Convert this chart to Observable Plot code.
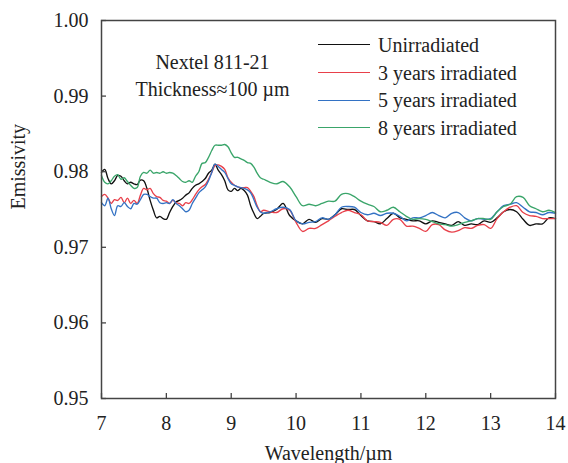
<!DOCTYPE html>
<html><head><meta charset="utf-8">
<script src="https://cdn.jsdelivr.net/npm/d3@7"></script>
<script src="https://cdn.jsdelivr.net/npm/@observablehq/plot@0.6"></script>
<style>
body{margin:0;background:#fff;}
#wrap{position:relative;width:568px;height:463px;font-family:"Liberation Serif","Times New Roman",serif;}
#legend{position:absolute;left:318px;top:31px;font-size:20px;color:#222;line-height:1;}
#legend .row{display:flex;align-items:center;height:27.7px;white-space:nowrap;}
#legend .sw{width:52px;height:0;border-top:1.4px solid;margin-right:8px;}
</style></head><body><div id="wrap"></div>
<script>
const wavelength = [
 7.00,7.05,7.10,7.15,7.20,7.25,7.30,7.35,7.40,7.45,
 7.50,7.55,7.60,7.65,7.70,7.75,7.80,7.85,7.90,7.95,
 8.00,8.05,8.10,8.15,8.20,8.25,8.30,8.35,8.40,8.45,
 8.50,8.55,8.60,8.65,8.70,8.75,8.80,8.85,8.90,8.95,
 9.00,9.05,9.10,9.15,9.20,9.25,9.30,9.35,9.40,9.45,
 9.50,
 9.6,9.7,9.8,9.9,
 10.0,10.1,10.2,10.3,10.4,10.5,10.6,10.7,10.8,10.9,
 11.0,11.1,11.2,11.3,11.4,11.5,11.6,11.7,11.8,11.9,
 12.0,12.1,12.2,12.3,12.4,12.5,12.6,12.7,12.8,12.9,
 13.0,13.1,13.2,13.3,13.4,13.5,13.6,13.7,13.8,13.9,
 14.0];
const unirradiated = [
 0.9799,0.9803,0.9791,0.9784,0.9788,0.9795,0.9794,0.9788,0.9784,0.9786,
 0.9784,0.9783,0.9789,0.9788,0.9778,0.9762,0.9749,0.9739,0.9741,0.9738,
 0.9737,0.9746,0.9754,0.9760,0.9762,0.9765,0.9769,0.9772,0.9778,0.9782,
 0.9784,0.9787,0.9791,0.9798,0.9802,0.9810,0.9802,0.9796,0.9788,0.9776,
 0.9774,0.9778,0.9775,0.9778,0.9775,0.9769,0.9755,0.9745,0.9738,0.9741,
 0.9745,
 0.9746,0.9750,0.9758,0.9742,
 0.9735,0.9731,0.9737,0.9733,0.9738,0.9737,0.9743,0.9751,0.9750,0.9750,
 0.9742,0.9735,0.9734,0.9731,0.9738,0.9745,0.9739,0.9737,0.9735,0.9735,
 0.9731,0.9735,0.9733,0.9731,0.9729,0.9734,0.9729,0.9731,0.9730,0.9735,
 0.9733,0.9739,0.9747,0.9750,0.9747,0.9737,0.9729,0.9731,0.9731,0.9739,
 0.9738];
const irradiated3 = [
 0.9767,0.9770,0.9765,0.9758,0.9763,0.9762,0.9766,0.9759,0.9765,0.9758,
 0.9762,0.9758,0.9769,0.9778,0.9776,0.9778,0.9771,0.9767,0.9766,0.9762,
 0.9761,0.9758,0.9762,0.9759,0.9758,0.9755,0.9759,0.9758,0.9763,0.9770,
 0.9776,0.9780,0.9783,0.9790,0.9799,0.9808,0.9809,0.9807,0.9803,0.9792,
 0.9786,0.9782,0.9780,0.9779,0.9779,0.9779,0.9774,0.9767,0.9755,0.9747,
 0.9749,
 0.9747,0.9746,0.9751,0.9749,
 0.9733,0.9721,0.9725,0.9725,0.9730,0.9735,0.9741,0.9746,0.9749,0.9746,
 0.9743,0.9735,0.9734,0.9733,0.9729,0.9737,0.9737,0.9728,0.9728,0.9725,
 0.9721,0.9730,0.9730,0.9723,0.9720,0.9722,0.9726,0.9725,0.9729,0.9730,
 0.9725,0.9738,0.9747,0.9753,0.9755,0.9746,0.9742,0.9741,0.9738,0.9738,
 0.9738];
const irradiated5 = [
 0.9759,0.9755,0.9765,0.9751,0.9742,0.9755,0.9754,0.9759,0.9754,0.9751,
 0.9758,0.9757,0.9763,0.9770,0.9770,0.9767,0.9765,0.9765,0.9759,0.9758,
 0.9759,0.9758,0.9763,0.9758,0.9755,0.9751,0.9747,0.9749,0.9758,0.9765,
 0.9772,0.9776,0.9780,0.9788,0.9799,0.9810,0.9807,0.9803,0.9799,0.9791,
 0.9784,0.9782,0.9780,0.9779,0.9778,0.9776,0.9772,0.9763,0.9753,0.9747,
 0.9745,
 0.9747,0.9751,0.9753,0.9750,
 0.9735,0.9731,0.9733,0.9734,0.9739,0.9737,0.9743,0.9753,0.9754,0.9753,
 0.9746,0.9743,0.9745,0.9742,0.9745,0.9745,0.9741,0.9735,0.9739,0.9739,
 0.9742,0.9746,0.9742,0.9739,0.9745,0.9746,0.9739,0.9735,0.9738,0.9737,
 0.9738,0.9747,0.9755,0.9757,0.9759,0.9753,0.9747,0.9746,0.9743,0.9746,
 0.9745];
const irradiated8 = [
 0.9795,0.9786,0.9784,0.9788,0.9794,0.9796,0.9790,0.9792,0.9787,0.9782,
 0.9778,0.9779,0.9794,0.9799,0.9798,0.9802,0.9798,0.9799,0.9798,0.9800,
 0.9798,0.9799,0.9798,0.9795,0.9791,0.9787,0.9786,0.9788,0.9786,0.9794,
 0.9800,0.9811,0.9812,0.9819,0.9828,0.9835,0.9835,0.9835,0.9836,0.9833,
 0.9825,0.9819,0.9819,0.9817,0.9815,0.9812,0.9811,0.9806,0.9798,0.9792,
 0.9790,
 0.9786,0.9784,0.9787,0.9780,
 0.9767,0.9755,0.9757,0.9755,0.9758,0.9761,0.9761,0.9770,0.9771,0.9767,
 0.9761,0.9757,0.9754,0.9747,0.9749,0.9753,0.9747,0.9741,0.9737,0.9738,
 0.9737,0.9734,0.9731,0.9730,0.9728,0.9730,0.9733,0.9735,0.9738,0.9738,
 0.9737,0.9747,0.9754,0.9757,0.9767,0.9766,0.9755,0.9751,0.9747,0.9749,
 0.9746];
const seriesNames = ["Unirradiated","3 years irradiated","5 years irradiated","8 years irradiated"];
const seriesColors = ["#111111","#e8404a","#3372c4","#3aa56a"];
const xTicks = [7,8,9,10,11,12,13,14];
const yTicks = [0.95,0.96,0.97,0.98,0.99,1.00];
const xLabel = "Wavelength/µm";
const yLabel = "Emissivity";
const noteText = "Nextel 811-21\nThickness≈100 µm";

const seriesValues = [unirradiated, irradiated3, irradiated5, irradiated8];
const rows = seriesNames.flatMap((s, k) => wavelength.map((w, i) => ({s, w, e: seriesValues[k][i]})));

const W = 568, H = 463, mL = 101, mR = 13, mT = 20, mB = 65;
const innerW = W - mL - mR, innerH = H - mT - mB;
const font = "Liberation Serif, Times New Roman, serif";

const chart = Plot.plot({
  width: W, height: H,
  marginLeft: mL, marginRight: mR, marginTop: mT, marginBottom: mB,
  style: {fontFamily: font, fontSize: "20px", color: "#222", background: "#fff", overflow: "visible"},
  x: {domain: [7, 14]},
  y: {domain: [0.95, 1.00]},
  color: {domain: seriesNames, range: seriesColors},
  marks: [
    Plot.lineY(rows, {x: "w", y: "e", z: "s", stroke: "s", strokeWidth: 1.35, curve: "catmull-rom"}),
    Plot.frame({stroke: "#444", strokeWidth: 1.5}),
    Plot.tickX(xTicks, {x: d => d, insetTop: innerH - 5, stroke: "#444", strokeWidth: 1.3}),
    Plot.tickY(yTicks, {y: d => d, insetRight: innerW - 5, stroke: "#444", strokeWidth: 1.3}),
    Plot.axisX({ticks: xTicks, tickSize: 0, tickPadding: 17, fontSize: 20, tickFormat: d3.format("d"), label: null}),
    Plot.axisY({ticks: yTicks, tickSize: 0, tickPadding: 13, fontSize: 20, tickFormat: d3.format(".2f"), label: null}),
    Plot.text([xLabel], {frameAnchor: "bottom", dy: 61, lineAnchor: "bottom", fontSize: 20, fill: "#222"}),
    Plot.text([yLabel], {frameAnchor: "left", dx: -83, rotate: -90, lineAnchor: "middle", fontSize: 20, fill: "#222"}),
    Plot.text([noteText], {frameAnchor: "top-left", dx: 111, dy: 53.6, textAnchor: "middle", lineAnchor: "middle", lineHeight: 1.35, fontSize: 20, fill: "#222"})
  ]
});
const wrap = document.getElementById("wrap");
wrap.appendChild(chart);
const legend = document.createElement("div");
legend.id = "legend";
seriesNames.forEach((name, i) => {
  const row = document.createElement("div");
  row.className = "row";
  const sw = document.createElement("span");
  sw.className = "sw";
  sw.style.borderTopColor = seriesColors[i];
  const t = document.createElement("span");
  t.textContent = name;
  row.appendChild(sw); row.appendChild(t);
  legend.appendChild(row);
});
wrap.appendChild(legend);
</script></body></html>
